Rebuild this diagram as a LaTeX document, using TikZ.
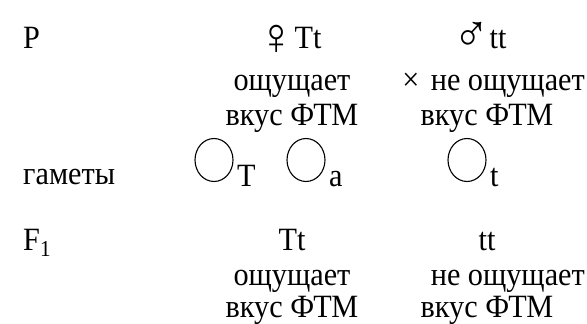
\documentclass[tikz,border=0pt]{standalone}
\usepackage{fontspec}
\usetikzlibrary{shapes.geometric}
\setmainfont[FakeStretch=0.93]{Liberation Serif}
\newcommand{\femsym}{\raisebox{-0.2em}{\scalebox{1.6}{♀}}}
\newcommand{\malsym}{\raisebox{-0.12em}{\scalebox{1.6}{♂}}}
\begin{document}
\begin{tikzpicture}[x=1pt,y=-1pt,
  txt/.style={anchor=base,inner sep=0pt,font=\fontsize{32.5}{36}\selectfont},
  lbl/.style={txt,anchor=base west},
  gam/.style={draw,ellipse,minimum width=38pt,minimum height=43pt,inner sep=0pt,line width=1.1pt}]
\useasboundingbox (0,0) rectangle (587,324);
% labels on the left
\node[lbl] (P) at (23,48) {P};
\node[lbl] (gam) at (23,184) {гаметы};
\node[lbl] (F) at (23,250) {F\textsubscript{1}};
% parents
\node[txt] (pf) at (290,48) {\femsym Tt};
\node[txt] (pm) at (480,48) {\malsym tt};
\node[txt] (pf2) at (292,90) {ощущает};
\node[txt,anchor=base east] (pm2) at (585,90) {×\hspace{0.35em}не ощущает};
\node[txt] (pf3) at (292,125) {вкус ФТМ};
\node[txt] (pm3) at (487,125) {вкус ФТМ};
% gametes
\node[gam] (g1) at (214,160) {};
\node[txt,anchor=base west] (g1l) at (237,186) {T};
\node[gam] (g2) at (306,160) {};
\node[txt,anchor=base west] (g2l) at (329,186) {a};
\node[gam] (g3) at (467,160) {};
\node[txt,anchor=base west] (g3l) at (490,186) {t};
% F1
\node[txt] (f1) at (292,250) {Tt};
\node[txt] (f2) at (487,250) {tt};
\node[txt] (f12) at (292,285) {ощущает};
\node[txt,anchor=base east] (f22) at (585,285) {не ощущает};
\node[txt] (f13) at (292,317) {вкус ФТМ};
\node[txt] (f23) at (487,317) {вкус ФТМ};
\end{tikzpicture}
\end{document}
